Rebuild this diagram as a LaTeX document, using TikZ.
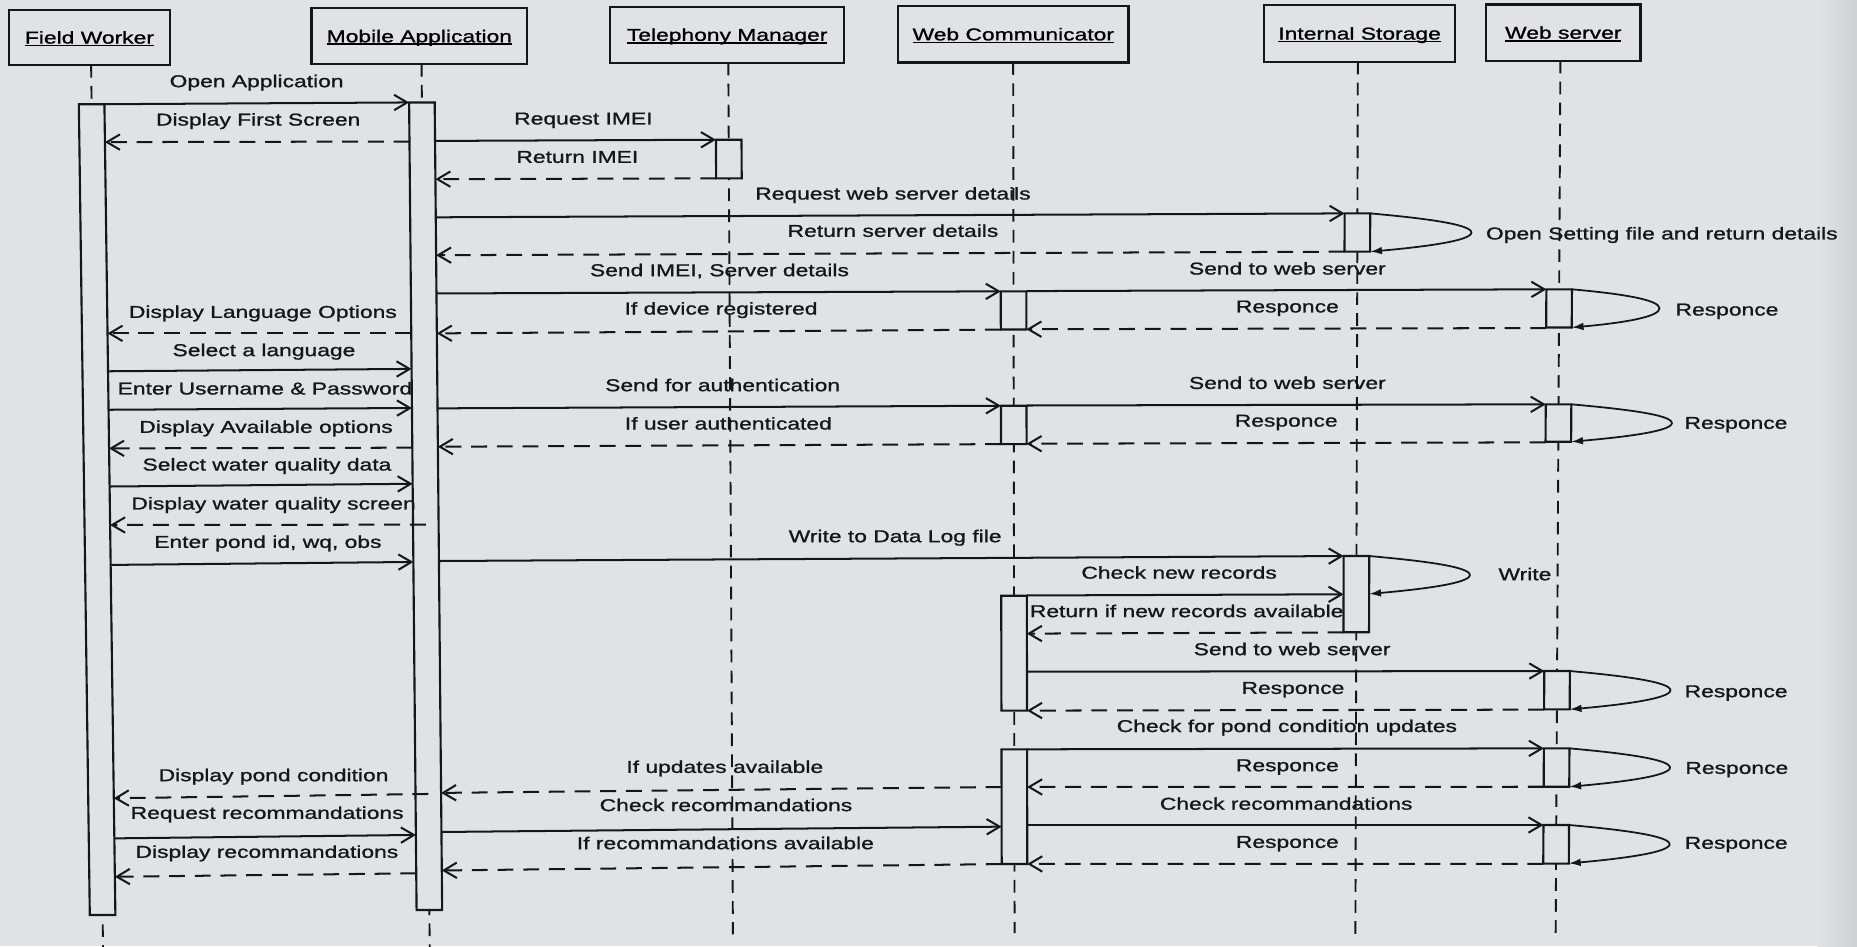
\documentclass[tikz,border=0pt]{standalone}
\usepackage{fontspec}
\setmainfont{Liberation Sans}[FakeStretch=1.33,FakeBold=1.1]
\usetikzlibrary{arrows.meta,calc}

\definecolor{paper}{RGB}{223,227,229}
\definecolor{paperedge}{RGB}{205,209,212}
\definecolor{ink}{RGB}{22,22,22}

% lifeline positions (x at the top of the chart) and half width of activation bars
\def\FW{77}
\def\MA{356}
\def\TM{615}
\def\WC{855.5}
\def\IS{1146.5}
\def\WS{1317.5}
\def\hw{10.8}

\makeatletter
\tikzset{ll/.cd, x/.store in=\ll@x, y/.store in=\ll@y, d/.store in=\ll@d}
% point on a lifeline: x = lifeline, d = offset from it, y = height;
% the lifelines lean a little, so their x drifts with the height
\tikzdeclarecoordinatesystem{ll}{%
  \tikzset{ll/.cd, d=0, #1}%
  \pgfmathsetmacro\ll@X{\ll@x+(\ll@y-60)*(0.0135-0.0000145*(\ll@x-77))+(\ll@d)}%
  \pgfpointxy{\ll@X}{\ll@y}%
}
\makeatother

% underlined object name
\newcommand\ulab[1]{\setbox0\hbox{#1}\rlap{\rule[-2.4pt]{\wd0}{1.4pt}}\box0}

% message between two lifelines: style, from (lifeline, offset, y), to (lifeline, offset, y)
\newcounter{msgno}
\newcommand\sendmsg[7]{%
  \stepcounter{msgno}%
  \edef\mn{\arabic{msgno}}%
  \coordinate (m\mn s) at (ll cs:x=#2,d=#3,y=#4);
  \coordinate (m\mn e) at (ll cs:x=#5,d=#6,y=#7);
  \draw[#1] (m\mn s) -- (m\mn e);
}

% activation bar: name, lifeline, top, bottom
\newcommand\actbox[4]{%
  \coordinate (#1 nw) at (ll cs:x=#2,d=-\hw,y=#3);
  \coordinate (#1 ne) at (ll cs:x=#2,d=\hw,y=#3);
  \coordinate (#1 se) at (ll cs:x=#2,d=\hw,y=#4);
  \coordinate (#1 sw) at (ll cs:x=#2,d=-\hw,y=#4);
  \filldraw[actbar] (#1 nw) -- (#1 ne) -- (#1 se) -- (#1 sw) -- cycle;
}

% call of an object to itself: name, lifeline, top, bottom, reach
\newcommand\selfcall[5]{%
  \coordinate (#1 a) at (ll cs:x=#2,d=\hw,y=#3);
  \coordinate (#1 b) at (ll cs:x=#2,d=\hw,y=#4);
  \coordinate (#1 t) at ($(#1 a)!0.5!(#1 b)+(#5,0)$);
  \draw[selfarrow] (#1 a) .. controls ($(#1 a)+(45,4)$) and ($(#1 t)+(0,-7)$) .. (#1 t)
     .. controls ($(#1 t)+(0,7)$) and ($(#1 b)+(45,-4)$) .. (#1 b);
}

\tikzset{
  lifeline/.style={draw=ink, line width=1.6pt, dash pattern=on 10.7pt off 7pt},
  headbox/.style={draw=ink, fill=paper, line width=2pt, inner sep=0pt,
                  text height=10.4pt, text depth=0pt},
  actbar/.style={draw=ink, fill=paper, line width=1.8pt},
  call/.style={draw=ink, line width=1.7pt, -{Straight Barb[length=11pt,width=13pt]}},
  reply/.style={call, dash pattern=on 13.4pt off 8.3pt},
  selfarrow/.style={draw=ink, line width=1.5pt, -{Latex[length=10pt,width=6.5pt]}},
  lbl/.style={inner sep=0pt, text height=10.4pt, text depth=0pt, text=ink},
}

\begin{document}
\begin{tikzpicture}[x=1pt, y=-1pt, font=\fontsize{14.5pt}{17pt}\selectfont]
\useasboundingbox (0,0) rectangle (1568,799);
\fill[paper] (0,0) rectangle (1568,799);
\shade[left color=paper, right color=paperedge] (1535,0) rectangle (1568,799);

% lifelines
\foreach \L/\n/\t/\b in {\FW/FW/54.8/800, \MA/MA/54/800, \TM/TM/52.9/789,
                         \WC/WC/52.6/788, \IS/IS/52.1/789, \WS/WS/51.2/788} {
  \coordinate (\n top) at (ll cs:x=\L,y=\t);
  \coordinate (\n end) at (ll cs:x=\L,y=\b);
  \draw[lifeline] (\n top) -- (\n end);
}

% objects
\node[headbox, minimum width=136.3pt, minimum height=46.3pt] (hFW) at (75.5,31.6) {\ulab{Field Worker}};
\node[headbox, minimum width=182pt, minimum height=47pt] (hMA) at (354.1,30.5) {\ulab{Mobile Application}};
\node[headbox, minimum width=197.5pt, minimum height=47.3pt] (hTM) at (614,29.3) {\ulab{Telephony Manager}};
\node[headbox, minimum width=194.8pt, minimum height=47.5pt] (hWC) at (855.6,28.9) {\ulab{Web Communicator}};
\node[headbox, minimum width=161.4pt, minimum height=47.9pt] (hIS) at (1148,28.2) {\ulab{Internal Storage}};
\node[headbox, minimum width=130.6pt, minimum height=47.5pt] (hWS) at (1320,27.5) {\ulab{Web server}};

% activation bars
\actbox{FWbar}{\FW}{88}{772.6}
\actbox{MAbar}{\MA}{86.5}{768.4}
\actbox{TMbar}{\TM}{118}{150.6}
\actbox{ISbar1}{\IS}{180.2}{212.5}
\actbox{WCbar1}{\WC}{246}{278.2}
\actbox{WSbar1}{\WS}{244.3}{276.5}
\actbox{WCbar2}{\WC}{342.6}{375}
\actbox{WSbar2}{\WS}{341.4}{373}
\actbox{ISbar2}{\IS}{469.5}{533.8}
\actbox{WCbar3}{\WC}{503}{600}
\actbox{WSbar3}{\WS}{566.6}{599}
\actbox{WCbar4}{\WC}{632.7}{729.5}
\actbox{WSbar4}{\WS}{631.9}{664.3}
\actbox{WSbar5}{\WS}{696.6}{729.2}

% messages
\sendmsg{call}{\FW}{\hw}{88}{\MA}{-\hw}{86.5}
\sendmsg{reply}{\MA}{-\hw}{119.5}{\FW}{\hw}{120}
\sendmsg{call}{\MA}{\hw}{119}{\TM}{-\hw}{118}
\sendmsg{reply}{\TM}{-\hw}{150.6}{\MA}{\hw}{151.3}
\sendmsg{call}{\MA}{\hw}{183.5}{\IS}{-\hw}{180.2}
\sendmsg{reply}{\IS}{-\hw}{212.5}{\MA}{\hw}{215.5}
\sendmsg{call}{\MA}{\hw}{247.8}{\WC}{-\hw}{246}
\sendmsg{call}{\WC}{\hw}{245.8}{\WS}{-\hw}{244.3}
\sendmsg{reply}{\WS}{-\hw}{277}{\WC}{\hw}{278}
\sendmsg{reply}{\WC}{-\hw}{278.3}{\MA}{\hw}{281.5}
\sendmsg{reply}{\MA}{-\hw}{281.5}{\FW}{\hw}{281.5}
\sendmsg{call}{\FW}{\hw}{313.5}{\MA}{-\hw}{311.5}
\sendmsg{call}{\FW}{\hw}{346}{\MA}{-\hw}{344.5}
\sendmsg{call}{\MA}{\hw}{344.8}{\WC}{-\hw}{342.6}
\sendmsg{call}{\WC}{\hw}{342.4}{\WS}{-\hw}{341.4}
\sendmsg{reply}{\WS}{-\hw}{373.5}{\WC}{\hw}{374.7}
\sendmsg{reply}{\WC}{-\hw}{375}{\MA}{\hw}{377.2}
\sendmsg{reply}{\MA}{-\hw}{378}{\FW}{\hw}{378.6}
\sendmsg{call}{\FW}{\hw}{410.8}{\MA}{-\hw}{408.5}
\sendmsg{reply}{\MA}{0}{443}{\FW}{\hw}{443.3}
\sendmsg{call}{\FW}{\hw}{477}{\MA}{-\hw}{474.5}
\sendmsg{call}{\MA}{\hw}{473.7}{\IS}{-\hw}{469.5}
\sendmsg{call}{\WC}{\hw}{502.8}{\IS}{-\hw}{501.8}
\sendmsg{reply}{\IS}{-\hw}{534}{\WC}{\hw}{535}
\sendmsg{call}{\WC}{\hw}{567.2}{\WS}{-\hw}{566.6}
\sendmsg{reply}{\WS}{-\hw}{599.2}{\WC}{\hw}{600}
\sendmsg{call}{\WC}{\hw}{632.7}{\WS}{-\hw}{631.9}
\sendmsg{reply}{\WS}{-\hw}{664.3}{\WC}{\hw}{664.5}
\sendmsg{reply}{\WC}{-\hw}{664.5}{\MA}{\hw}{669.5}
\sendmsg{reply}{\MA}{0}{670.4}{\FW}{\hw}{674}
\sendmsg{call}{\FW}{\hw}{707.9}{\MA}{-\hw}{705}
\sendmsg{call}{\MA}{\hw}{702.5}{\WC}{-\hw}{698}
\sendmsg{call}{\WC}{\hw}{696.6}{\WS}{-\hw}{696.6}
\sendmsg{reply}{\WS}{-\hw}{729.4}{\WC}{\hw}{729.5}
\sendmsg{reply}{\WC}{-\hw}{729.6}{\MA}{\hw}{735}
\sendmsg{reply}{\MA}{-\hw}{737.4}{\FW}{\hw}{740.3}

% calls to self
\selfcall{ISloop1}{\IS}{180.2}{212.5}{85.5}
\selfcall{WSloop1}{\WS}{244.3}{276.5}{74}
\selfcall{WSloop2}{\WS}{341.4}{373}{85}
\selfcall{ISloop2}{\IS}{469.5}{501.5}{85}
\selfcall{WSloop3}{\WS}{566.6}{599}{85}
\selfcall{WSloop4}{\WS}{631.9}{664.3}{85}
\selfcall{WSloop5}{\WS}{696.6}{729}{85}

% message texts
\node[lbl] (l1) at (216.7,68.4) {Open Application};
\node[lbl] (l2) at (218,100.8) {Display First Screen};
\node[lbl] (l3) at (492.6,99.9) {Request IMEI};
\node[lbl] (l4) at (487.5,132.3) {Return IMEI};
\node[lbl] (l5) at (754,163.3) {Request web server details};
\node[lbl] (l6) at (754,194.8) {Return server details};
\node[lbl] (l6s) at (1403.2,197) {Open Setting file and return details};
\node[lbl] (l7) at (607.5,228) {Send IMEI, Server details};
\node[lbl] (l8) at (1087,226.6) {Send to web server};
\node[lbl] (l8s) at (1458.2,261.2) {Responce};
\node[lbl] (l9) at (1087,258.6) {Responce};
\node[lbl] (l10) at (608.8,260.4) {If device registered};
\node[lbl] (l11) at (222,263.2) {Display Language Options};
\node[lbl] (l12) at (222.9,295.5) {Select a language};
\node[lbl] (l13) at (223.7,327.9) {Enter Username \& Password};
\node[lbl] (l14) at (610.2,325.1) {Send for authentication};
\node[lbl] (l15) at (1087,323.2) {Send to web server};
\node[lbl] (l15s) at (1465.8,356.9) {Responce};
\node[lbl] (l16) at (1086,355) {Responce};
\node[lbl] (l17) at (615,357.5) {If user authenticated};
\node[lbl] (l18) at (224.6,360.3) {Display Available options};
\node[lbl] (l19) at (225.4,392.1) {Select water quality data};
\node[lbl] (l20) at (231,425) {Display water quality screen};
\node[lbl] (l21) at (226.2,457.4) {Enter pond id, wq, obs};
\node[lbl] (l22) at (755.8,452.6) {Write to Data Log file};
\node[lbl] (l22s) at (1287.6,484.7) {Write};
\node[lbl] (l23) at (995.6,483.4) {Check new records};
\node[lbl] (l24) at (1002,515.9) {Return if new records available};
\node[lbl] (l25) at (1091,548) {Send to web server};
\node[lbl] (l25s) at (1465.9,583.5) {Responce};
\node[lbl] (l26) at (1091.7,580.7) {Responce};
\node[lbl] (l27) at (1086.6,612.9) {Check for pond condition updates};
\node[lbl] (l27s) at (1466.5,648.2) {Responce};
\node[lbl] (l28) at (1087,646) {Responce};
\node[lbl] (l29) at (612,647.4) {If updates available};
\node[lbl] (l30) at (231,654.4) {Display pond condition};
\node[lbl] (l31) at (225.6,686.2) {Request recommandations};
\node[lbl] (l32) at (613,679.7) {Check recommandations};
\node[lbl] (l33) at (1086,678.5) {Check recommandations};
\node[lbl] (l33s) at (1466,711.5) {Responce};
\node[lbl] (l34) at (1087,710.7) {Responce};
\node[lbl] (l35) at (612.5,711.8) {If recommandations available};
\node[lbl] (l36) at (225.4,719.1) {Display recommandations};
\end{tikzpicture}
\end{document}
